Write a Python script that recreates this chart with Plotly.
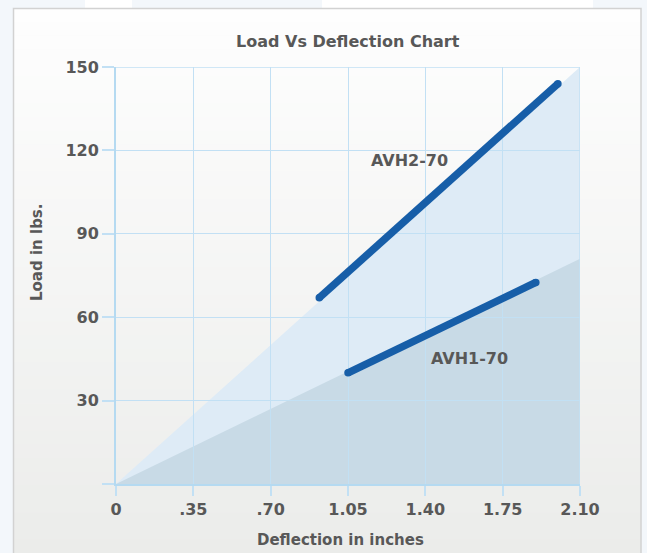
import plotly.graph_objects as go

# ---- data ----
x_ticks = [0, 0.35, 0.70, 1.05, 1.40, 1.75, 2.10]
x_ticktext = ["0", ".35", ".70", "1.05", "1.40", "1.75", "2.10"]
y_ticks = [0, 30, 60, 90, 120, 150]
y_ticktext = ["", "30", "60", "90", "120", "150"]

avh2_x = [0.92, 2.00]
avh2_y = [67, 144]
avh1_x = [1.05, 1.90]
avh1_y = [40, 72.5]

zone_upper_x = [0, 2.10, 2.10]
zone_upper_y = [0, 150, 0]
zone_lower_x = [0, 2.10, 2.10]
zone_lower_y = [0, 81, 0]

labels = ["AVH2-70", "AVH1-70"]
label_x = [1.33, 1.60]
label_y = [116.5, 45]

# ---- layout geometry (pixels) ----
W, H = 647, 553
L, R, T, B = 116, 67, 67, 69
PW, PH = W - L - R, H - T - B


def px_x(px):
    return (px - L) / PW


def px_y(py):
    return (H - B - py) / PH


TXT = "#585858"
FONT = "DejaVu Sans"
LINE_C = "#175ea8"
GRID_C = "#c2e0f4"

fig = go.Figure()

for xs, ys, name in [(avh2_x, avh2_y, labels[0]), (avh1_x, avh1_y, labels[1])]:
    fig.add_trace(go.Scatter(
        x=xs, y=ys, mode="lines+markers", name=name,
        line=dict(color=LINE_C, width=7.5),
        marker=dict(color=LINE_C, size=7.5),
        hoverinfo="skip", showlegend=False, cliponaxis=False,
    ))

shapes = []
# outer decorative white patches at top
for x0, x1 in [(85, 132), (322, 593)]:
    shapes.append(dict(type="rect", xref="paper", yref="paper", layer="below",
                       x0=px_x(x0), x1=px_x(x1), y0=px_y(8), y1=px_y(0),
                       fillcolor="#ffffff", line=dict(width=0)))
# gradient inside frame
N = 40
top_c = (254, 254, 254)
bot_c = (235, 236, 234)
f_top, f_bot = 8, 553
for i in range(N):
    t = (i + 0.5) / N
    c = tuple(round(top_c[k] + (bot_c[k] - top_c[k]) * t) for k in range(3))
    y0 = f_top + (f_bot - f_top) * i / N
    y1 = f_top + (f_bot - f_top) * (i + 1) / N + 0.6
    shapes.append(dict(type="rect", xref="paper", yref="paper", layer="below",
                       x0=px_x(13), x1=px_x(641), y0=px_y(y1), y1=px_y(y0),
                       fillcolor="rgb(%d,%d,%d)" % c, line=dict(width=0)))
# frame border
shapes.append(dict(type="rect", xref="paper", yref="paper", layer="below",
                   x0=px_x(13.5), x1=px_x(641), y0=px_y(560), y1=px_y(8.5),
                   fillcolor="rgba(0,0,0,0)", line=dict(color="#d2d2d2", width=1.5)))


def path_from(xs, ys):
    p = "M %g,%g " % (xs[0], ys[0])
    for a, b in zip(xs[1:], ys[1:]):
        p += "L %g,%g " % (a, b)
    return p + "Z"


shapes.append(dict(type="path", xref="x", yref="y", layer="below",
                   path=path_from(zone_upper_x, zone_upper_y),
                   fillcolor="#deebf6", line=dict(width=0)))
shapes.append(dict(type="path", xref="x", yref="y", layer="below",
                   path=path_from(zone_lower_x, zone_lower_y),
                   fillcolor="#c8dae6", line=dict(width=0)))
# plot-area top and right edges (grid frame at 150 and 2.10)
shapes.append(dict(type="line", xref="x", yref="y", layer="between",
                   x0=x_ticks[0], x1=x_ticks[-1], y0=y_ticks[-1], y1=y_ticks[-1],
                   line=dict(color=GRID_C, width=1.5)))
shapes.append(dict(type="line", xref="x", yref="y", layer="between",
                   x0=x_ticks[-1], x1=x_ticks[-1], y0=y_ticks[0], y1=y_ticks[-1],
                   line=dict(color=GRID_C, width=1.5)))

annotations = [
    dict(text="<b>Load Vs Deflection Chart</b>", xref="paper", yref="paper",
         x=px_x(348), y=px_y(42), showarrow=False, xanchor="center", yanchor="middle",
         font=dict(family=FONT, size=16, color=TXT)),
    dict(text="<b>Deflection in inches</b>", xref="paper", yref="paper",
         x=px_x(340), y=px_y(540), showarrow=False, xanchor="center", yanchor="middle",
         font=dict(family=FONT, size=15, color=TXT)),
    dict(text="<b>Load in lbs.</b>", xref="paper", yref="paper",
         x=px_x(37), y=px_y(252), showarrow=False, xanchor="center", yanchor="middle",
         textangle=-90, font=dict(family=FONT, size=15, color=TXT)),
]
for t, lx, ly in zip(labels, label_x, label_y):
    annotations.append(dict(text="<b>%s</b>" % t, x=lx, y=ly, xref="x", yref="y",
                            showarrow=False, xanchor="center", yanchor="middle",
                            font=dict(family=FONT, size=16, color=TXT)))

fig.update_layout(
    width=W, height=H,
    margin=dict(l=L, r=R, t=T, b=B, autoexpand=False),
    paper_bgcolor="#f3f7fb",
    plot_bgcolor="rgba(0,0,0,0)",
    shapes=shapes,
    annotations=annotations,
    showlegend=False,
    xaxis=dict(range=[0, 2.10], tickvals=x_ticks, ticktext=x_ticktext,
               showgrid=True, gridcolor=GRID_C, gridwidth=1.2,
               zeroline=False, showline=True, linecolor="#b5daf1", linewidth=2,
               ticks="outside", ticklen=10, tickcolor=GRID_C, tickwidth=1.5,
               tickfont=dict(family=FONT, size=16, color=TXT, weight="bold"),
               fixedrange=True),
    yaxis=dict(range=[0, 150], tickvals=y_ticks, ticktext=y_ticktext,
               showgrid=True, gridcolor=GRID_C, gridwidth=1.2,
               zeroline=False, showline=True, linecolor="#b5daf1", linewidth=2,
               ticks="outside", ticklen=12, tickcolor=GRID_C, tickwidth=1.5,
               tickfont=dict(family=FONT, size=16, color=TXT, weight="bold"),
               fixedrange=True),
)

fig.write_html("out.html", config={"displayModeBar": False},
               post_script="document.body.style.margin='0';document.body.style.overflow='hidden';")
